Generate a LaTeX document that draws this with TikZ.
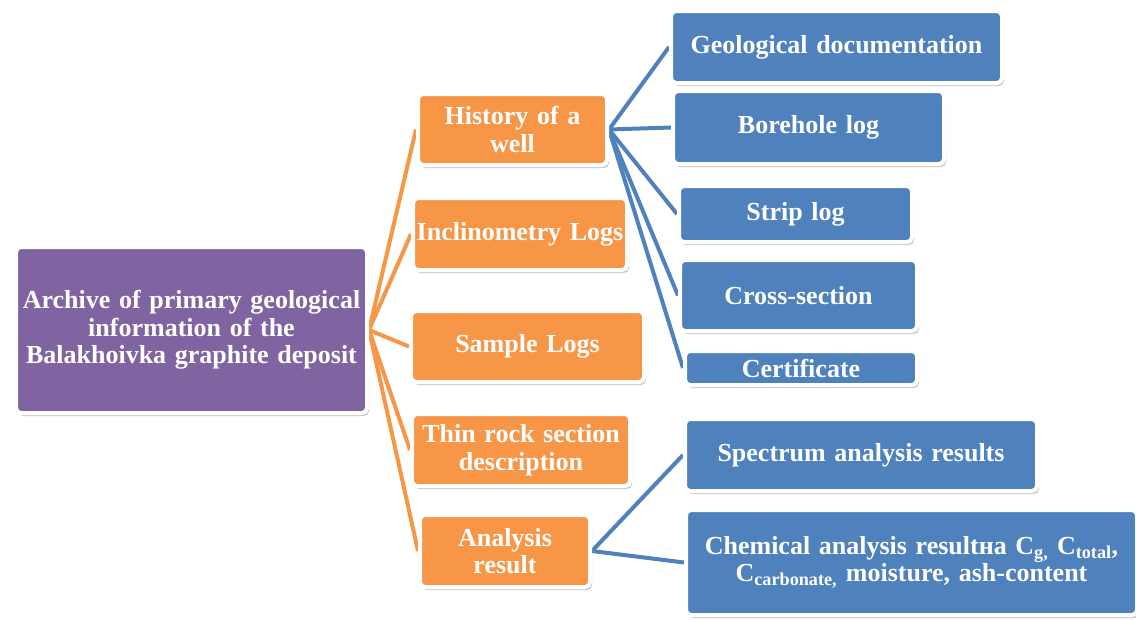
\documentclass[tikz,border=0pt]{standalone}
\usepackage{fontspec}
\setmainfont{Liberation Serif}
\usetikzlibrary{shadows,backgrounds}
\definecolor{archpurple}{HTML}{8064A2}
\definecolor{archorange}{HTML}{F79646}
\definecolor{archblue}{HTML}{4F81BD}
\begin{document}
\begin{tikzpicture}[x=1pt,y=-1pt,
    box/.style = {draw=white,line width=4pt,rounded corners=5pt,text=white,
      font=\bfseries\fontsize{26}{27.5}\selectfont,align=center,inner sep=0pt,
      drop shadow={shadow xshift=2pt,shadow yshift=-3pt,opacity=0.3,fill=black!70}},
    root/.style = {box,fill=archpurple},
    branch/.style = {box,fill=archorange},
    leaf/.style = {box,fill=archblue},
    trunk/.style = {archorange,line width=4pt},
    twig/.style = {archblue,line width=4pt}]

    \useasboundingbox (0,0) rectangle (1136,619);

    % Archive
    \node [root,minimum width=351pt,minimum height=166pt,text width=345pt] (archive) at (191.5,330)
      {Archive of primary geological\\ information of the\\ Balakhoivka graphite deposit};

    % Orange branches
    \node [branch,minimum width=189pt,minimum height=71pt,text width=185pt] (history) at (512.5,129.5) {History of a\\ well};
    \node [branch,minimum width=214pt,minimum height=72pt,text width=210pt] (incl) at (520,234) {Inclinometry Logs};
    \node [branch,minimum width=233pt,minimum height=71pt,text width=229pt] (sample) at (527.5,346.5) {Sample Logs};
    \node [branch,minimum width=218pt,minimum height=72pt,text width=214pt] (thin) at (521,450) {Thin rock section\\ description};
    \node [branch,minimum width=170pt,minimum height=72pt,text width=166pt] (analysis) at (505,551) {Analysis\\ result};

    % Blue leaves of the well history
    \node [leaf,minimum width=331pt,minimum height=72pt,text width=327pt] (geodoc) at (836.5,47) {Geological documentation};
    \node [leaf,minimum width=271pt,minimum height=73pt,text width=267pt] (borehole) at (808.5,127.5) {Borehole log};
    \node [leaf,minimum width=233pt,minimum height=56pt,text width=229pt] (strip) at (795.5,214) {Strip log};
    \node [leaf,minimum width=237pt,minimum height=71pt,text width=233pt] (cross) at (798.5,295.5) {Cross-section};
    \node [leaf,minimum width=232pt,minimum height=34pt,text width=228pt] (cert) at (801,368) {Certificate};

    % Blue leaves of the analysis
    \node [leaf,minimum width=352pt,minimum height=72pt,text width=348pt] (spectrum) at (861,455) {Spectrum analysis results};
    \node [leaf,minimum width=451pt,minimum height=105pt,text width=447pt] (chem) at (911.5,562.5)
      {Chemical analysis resultна C\textsubscript{g,} C\textsubscript{total},\\ C\textsubscript{carbonate,} moisture, ash-content};

    % Connectors
    \begin{scope}[on background layer]
      \foreach \b in {history,incl,sample,thin,analysis}
        \draw[trunk] (archive.east) -- (\b.west);
      \foreach \l in {geodoc,borehole,strip,cross,cert}
        \draw[twig] (history.east) -- (\l.west);
      \foreach \l in {spectrum,chem}
        \draw[twig] (analysis.east) -- (\l.west);
    \end{scope}

\end{tikzpicture}
\end{document}
